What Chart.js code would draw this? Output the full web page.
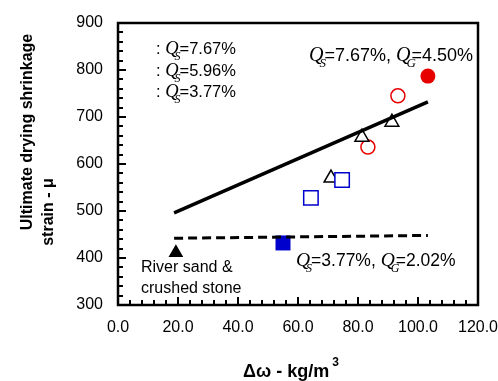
<!DOCTYPE html>
<html>
<head>
<meta charset="utf-8">
<script src="https://cdn.jsdelivr.net/npm/chart.js@4.4.1/dist/chart.umd.min.js"></script>
<style>
  html, body { margin: 0; padding: 0; background: #fff; }
  #wrap { width: 498px; height: 381px; }
</style>
</head>
<body>
<div id="wrap"><canvas id="c" width="498" height="381"></canvas></div>
<script>
// data
const xTicks = [0, 20, 40, 60, 80, 100, 120];
const yTicks = [300, 400, 500, 600, 700, 800, 900];

const fitHigh   = [[18.7, 496], [103.3, 732]];
const fitLow    = [[18.7, 442], [103.3, 448]];
const riverSand = [[19.3, 411]];
const filledSq  = [[55, 432]];
const openSq    = [[64.3, 528], [74.7, 566]];
const openTri   = [[71, 570], [81.3, 657], [91.3, 689]];
const openCirc  = [[83.3, 636], [93.3, 745]];
const filledCirc = [[103.3, 787]];

const legendRows = ['7.67%', '5.96%', '3.77%'];

const BLUE = '#0000cc';
const RED = '#e60000';
const SANS = '"Liberation Sans", Arial, sans-serif';
const SERIF = '"Liberation Serif", "Times New Roman", serif';

const pts = arr => arr.map(([x, y]) => ({ x, y }));

// draws text like ": Q_S=7.67%" with italic serif Q and subscript
function richText(ctx, x, y, parts, size) {
  size = size || 16;
  ctx.save();
  ctx.textBaseline = 'alphabetic';
  ctx.textAlign = 'left';
  ctx.fillStyle = '#000';
  for (const p of parts) {
    if (typeof p === 'string') {
      ctx.font = size + 'px ' + SANS;
      ctx.fillText(p, x, y);
      x += ctx.measureText(p).width;
    } else {
      ctx.font = 'italic ' + (size + 2) + 'px ' + SERIF;
      ctx.fillText('Q', x, y);
      const w = ctx.measureText('Q').width;
      ctx.font = 'italic ' + Math.round(size * 0.7) + 'px ' + SERIF;
      ctx.fillText(p.sub, x + w - 4, y + 6);
      x += w + 1;
    }
  }
  ctx.restore();
}

const decor = {
  id: 'decor',
  afterDraw(chart) {
    const { ctx, chartArea: a, scales: { x, y } } = chart;
    ctx.save();
    ctx.strokeStyle = '#000';
    // minor / major tick marks pointing inward
    ctx.lineWidth = 2;
    ctx.beginPath();
    for (let v = 300; v <= 900; v += 20) {
      const py = Math.round(y.getPixelForValue(v));
      const len = v % 100 === 0 ? 8 : 5;
      ctx.moveTo(a.left, py); ctx.lineTo(a.left + len, py);
    }
    for (let v = 0; v <= 120; v += 4) {
      const px = Math.round(x.getPixelForValue(v));
      const len = v % 20 === 0 ? 8 : 5;
      ctx.moveTo(px, a.bottom); ctx.lineTo(px, a.bottom - len);
    }
    ctx.stroke();
    // frame
    ctx.lineWidth = 2.5;
    ctx.strokeRect(a.left, a.top, a.right - a.left, a.bottom - a.top);

    // legend text (symbols are not shown in the original)
    legendRows.forEach((t, i) => {
      richText(ctx, 156, 54 + i * 21.5, [': ', { sub: 'S' }, '=' + t], 16.5);
    });
    richText(ctx, 309, 61, [{ sub: 'S' }, '=7.67%, ', { sub: 'G' }, '=4.50%'], 18);
    richText(ctx, 296, 266, [{ sub: 'S' }, '=3.77%, ', { sub: 'G' }, '=2.02%'], 17.5);

    ctx.font = '16px ' + SANS;
    ctx.fillStyle = '#000';
    ctx.textBaseline = 'middle';
    ctx.textAlign = 'left';
    ctx.fillText('River sand &', 141, 268);
    ctx.fillText('crushed stone', 141, 289);

    // axis titles
    ctx.font = 'bold 16px ' + SANS;
    ctx.textAlign = 'center';
    ctx.save();
    ctx.translate(28, 132);
    ctx.rotate(-Math.PI / 2);
    ctx.fillText('Ultimate drying shrinkage', 0, 0);
    ctx.restore();
    ctx.save();
    ctx.translate(49, 212);
    ctx.rotate(-Math.PI / 2);
    ctx.fillText('strain - \u03bc', 0, 0);
    ctx.restore();
    ctx.textAlign = 'left';
    ctx.font = 'bold 18px ' + SANS;
    const xt = '\u0394\u03c9 - kg/m';
    ctx.fillText(xt, 243, 372);
    const w = ctx.measureText(xt).width;
    ctx.font = 'bold 12px ' + SANS;
    ctx.fillText('3', 243 + w + 3, 363);
    ctx.restore();
  }
};

new Chart(document.getElementById('c'), {
  type: 'scatter',
  data: {
    datasets: [
      { data: pts(fitHigh), showLine: true, borderColor: '#000', borderWidth: 3.5, pointRadius: 0 },
      { data: pts(fitLow), showLine: true, borderColor: '#000', borderWidth: 3, borderDash: [9, 5], pointRadius: 0 },
      { data: pts(riverSand), pointStyle: 'triangle', pointRadius: 8.5, backgroundColor: '#000', borderColor: '#000', borderWidth: 0 },
      { data: pts(filledSq), pointStyle: 'rect', pointRadius: 10.6, backgroundColor: BLUE, borderColor: BLUE, borderWidth: 0 },
      { data: pts(openSq), pointStyle: 'rect', pointRadius: 10.2, backgroundColor: '#fff', borderColor: BLUE, borderWidth: 1.5 },
      { data: pts(openTri), pointStyle: 'triangle', pointRadius: 8, backgroundColor: '#fff', borderColor: '#000', borderWidth: 1.5 },
      { data: pts(openCirc), pointStyle: 'circle', pointRadius: 7, backgroundColor: '#fff', borderColor: RED, borderWidth: 1.5 },
      { data: pts(filledCirc), pointStyle: 'circle', pointRadius: 7.5, backgroundColor: RED, borderColor: RED, borderWidth: 0 },
    ],
  },
  options: {
    responsive: false,
    animation: false,
    layout: { padding: { left: 0, right: 20, top: 23, bottom: 0 } },
    plugins: { legend: { display: false }, tooltip: { enabled: false } },
    scales: {
      x: {
        type: 'linear', min: 0, max: 120,
        afterBuildTicks: s => { s.ticks = xTicks.map(v => ({ value: v })); },
        afterFit: s => { s.height = 76; s.paddingLeft = 0; s.paddingRight = 0; },
        grid: { display: false, drawTicks: false },
        border: { display: false },
        ticks: { color: '#000', padding: 13, maxRotation: 0, font: { size: 16, family: SANS }, callback: v => v.toFixed(1) },
      },
      y: {
        type: 'linear', min: 300, max: 900,
        afterBuildTicks: s => { s.ticks = yTicks.map(v => ({ value: v })); },
        afterFit: s => { s.width = 118; s.paddingTop = 0; s.paddingBottom = 0; },
        grid: { display: false, drawTicks: false },
        border: { display: false },
        ticks: { color: '#000', padding: 15, font: { size: 16, family: SANS } },
      },
    },
  },
  plugins: [decor],
});
</script>
</body>
</html>
